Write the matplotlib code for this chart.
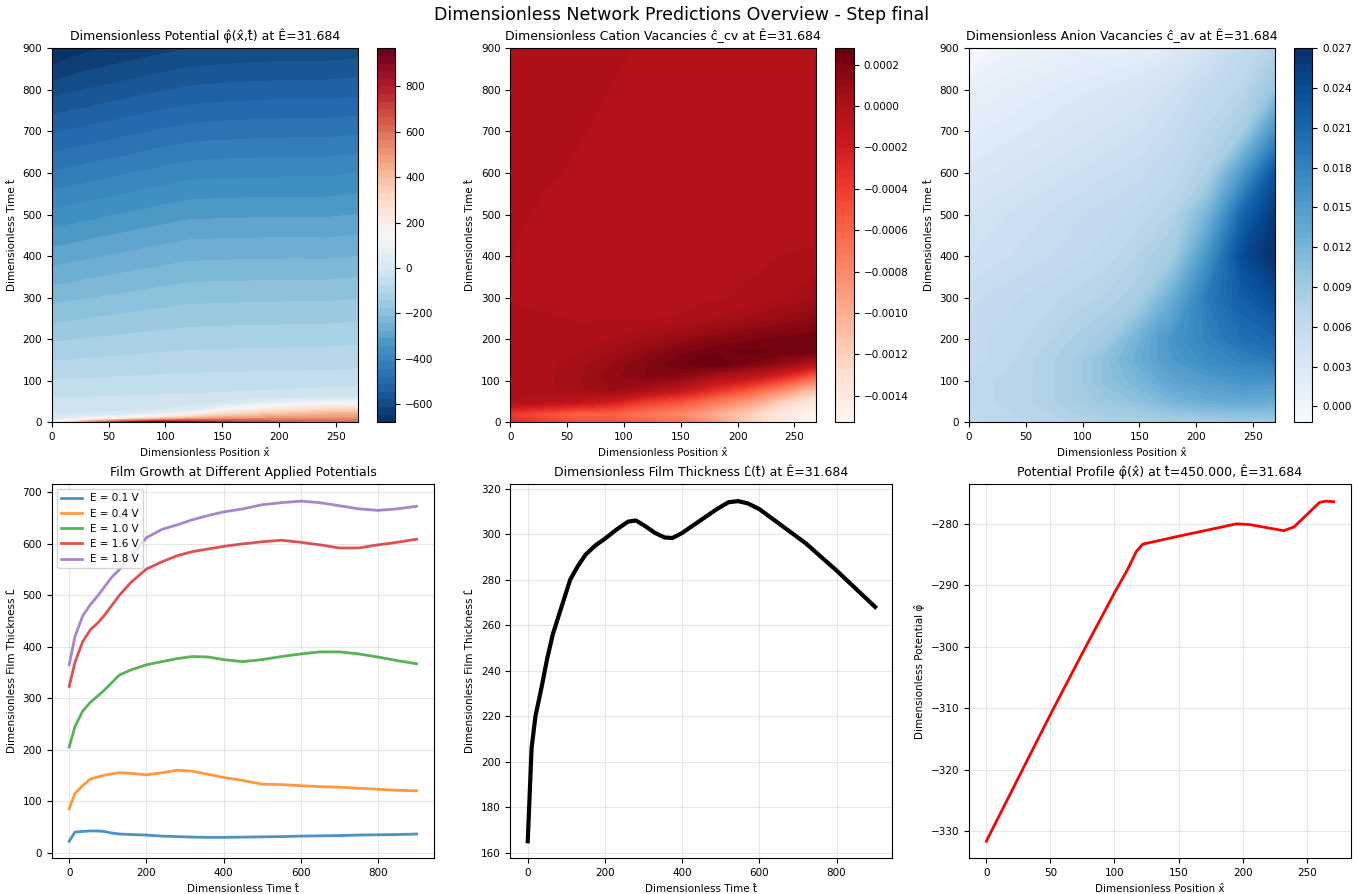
import numpy as np
import matplotlib
matplotlib.use("Agg")
import matplotlib.pyplot as plt
from matplotlib import ticker

HAT = "\u0302"
PHI = "\u03c6" + HAT
XH = "x" + HAT
TH = "t" + HAT
LH = "L" + HAT
E_VAL = "\u00ca=31.684"

# grid of the contour maps
x_grid = [0, 30, 60, 90, 120, 150, 180, 210, 240, 269]

# potential phi(x, t)
t_phi = [0, 5, 10, 20, 30, 45, 60, 100, 200, 300, 450, 600, 750, 900]
phi_map = [
    [100, 550, 800, 967, 900, 780, 700, 650, 620, 600],
    [50, 300, 500, 600, 650, 640, 620, 600, 590, 580],
    [10, 100, 160, 300, 420, 480, 500, 510, 520, 520],
    [-10, -5, 10, 60, 150, 300, 360, 400, 430, 440],
    [-20, -18, -15, -10, 20, 140, 220, 280, 320, 340],
    [-32, -30, -28, -26, -20, 0, 60, 110, 150, 140],
    [-43, -41, -39, -37, -35, -32, -28, -22, -15, -10],
    [-74, -71, -68, -66, -64, -63, -62, -61, -60, -58],
    [-148, -141, -135, -130, -125, -123, -122, -121, -120, -117],
    [-222, -212, -203, -194, -186, -184, -183, -182, -182, -178],
    [-332, -319, -307, -295, -284, -282, -281, -280, -281, -276],
    [-442, -429, -416, -403, -390, -387, -385, -384, -384, -378],
    [-553, -540, -527, -514, -502, -497, -494, -492, -492, -488],
    [-680, -655, -640, -626, -614, -608, -604, -602, -602, -598],
]

# cation vacancies
t_cv = [0, 20, 50, 80, 110, 140, 170, 200, 250, 300, 450, 600, 750, 900]
cv_map = [
    [-0.0003, -0.0004, -0.0005, -0.0005, -0.0006, -0.0007, -0.0009, -0.0012, -0.0014, -0.00153],
    [-0.0004, -0.0005, -0.0006, -0.0006, -0.0007, -0.0008, -0.0010, -0.0012, -0.0014, -0.0015],
    [-0.00002, -0.00004, -0.0001, -0.0002, -0.0004, -0.0005, -0.0007, -0.0009, -0.0012, -0.0014],
    [0.0, 0.00001, 0.00005, 0.0001, 0.00003, -0.0001, -0.0003, -0.0005, -0.0008, -0.0011],
    [0.0, 0.00001, 0.00005, 0.00012, 0.00017, 0.00014, 0.0, -0.0001, -0.0003, -0.0006],
    [0.0, 0.00001, 0.00004, 0.0001, 0.00017, 0.00024, 0.00028, 0.0002, 0.0001, -0.0001],
    [0.0, 0.0, 0.00002, 0.00006, 0.00012, 0.00019, 0.00024, 0.00025, 0.00024, 0.00022],
    [0.0, 0.0, 0.0, 0.00002, 0.00006, 0.00011, 0.00016, 0.0002, 0.00022, 0.00024],
    [0.0, -0.00001, -0.00002, -0.00002, -0.00002, -0.00001, 0.00002, 0.00006, 0.0001, 0.00014],
    [-0.00002, -0.00003, -0.00003, -0.00003, -0.00003, -0.00003, -0.00002, -0.00001, 0.00002, 0.00005],
    [-0.00001, -0.00003, -0.00003, -0.00003, -0.00003, -0.00003, -0.00003, -0.00003, -0.00003, -0.00003],
    [0.0, -0.00001, -0.00002, -0.00003, -0.00003, -0.00003, -0.00003, -0.00003, -0.00003, -0.00003],
    [0.0, 0.0, -0.00001, -0.00002, -0.00003, -0.00003, -0.00003, -0.00003, -0.00003, -0.00003],
    [0.0, 0.0, 0.0, -0.00001, -0.00002, -0.00003, -0.00003, -0.00003, -0.00003, -0.00003],
]

# anion vacancies
t_av = [0, 50, 100, 150, 200, 300, 400, 500, 600, 700, 800, 900]
av_map = [
    [0.006, 0.0065, 0.007, 0.0075, 0.008, 0.008, 0.0085, 0.0085, 0.009, 0.009],
    [0.0065, 0.007, 0.0075, 0.0085, 0.0095, 0.0105, 0.012, 0.013, 0.0135, 0.013],
    [0.0065, 0.007, 0.0075, 0.0085, 0.0105, 0.012, 0.014, 0.015, 0.016, 0.016],
    [0.006, 0.0065, 0.0075, 0.0085, 0.0105, 0.013, 0.0155, 0.017, 0.018, 0.019],
    [0.006, 0.0065, 0.007, 0.008, 0.009, 0.0125, 0.016, 0.018, 0.020, 0.021],
    [0.0055, 0.006, 0.0065, 0.007, 0.0075, 0.0085, 0.013, 0.019, 0.022, 0.024],
    [0.0045, 0.005, 0.0055, 0.006, 0.0065, 0.0075, 0.009, 0.016, 0.024, 0.027],
    [0.004, 0.0045, 0.005, 0.0055, 0.006, 0.0065, 0.0075, 0.012, 0.021, 0.026],
    [0.003, 0.0035, 0.004, 0.0045, 0.005, 0.0055, 0.0065, 0.008, 0.015, 0.023],
    [0.002, 0.0025, 0.003, 0.0035, 0.004, 0.0045, 0.0055, 0.007, 0.0085, 0.016],
    [0.001, 0.0015, 0.002, 0.0025, 0.003, 0.0035, 0.0045, 0.006, 0.007, 0.010],
    [-0.0012, 0.0003, 0.0006, 0.001, 0.0012, 0.0015, 0.0025, 0.004, 0.006, 0.0075],
]

# film growth for several applied potentials
t_growth = [0, 15, 35, 55, 75, 90, 110, 130, 160, 200, 240, 280, 320, 360, 400,
            450, 500, 550, 600, 650, 700, 750, 800, 850, 900]
growth_labels = ["E = 0.1 V", "E = 0.4 V", "E = 1.0 V", "E = 1.6 V", "E = 1.8 V"]
L_e01 = [22, 40, 41, 42, 42, 41, 38, 36, 35, 34, 32, 31, 30, 29.5, 29.5,
         30, 30.5, 31, 32, 32.5, 33, 34, 34.5, 35, 36]
L_e04 = [85, 115, 130, 143, 147, 150, 153, 155, 154, 151, 155, 160, 158, 152, 146,
         140, 133, 132, 130, 128, 127, 125, 123, 121, 120]
L_e10 = [205, 245, 275, 292, 305, 315, 330, 345, 355, 365, 371, 377, 381, 380, 375,
         371, 375, 381, 386, 390, 390, 386, 380, 373, 367]
L_e16 = [323, 370, 410, 433, 447, 460, 480, 500, 525, 551, 565, 577, 585, 590, 595,
         600, 604, 607, 603, 598, 592, 592, 598, 603, 609]
L_e18 = [365, 420, 460, 482, 500, 515, 535, 550, 575, 612, 628, 637, 647, 655, 662,
         668, 676, 680, 683, 680, 674, 668, 665, 668, 673]

# film thickness at the current potential
t_thick = [0, 10, 20, 35, 50, 65, 80, 95, 110, 130, 150, 175, 200, 230, 260, 280, 300,
           330, 355, 375, 400, 430, 460, 490, 520, 545, 570, 600, 640, 680, 720, 760,
           800, 850, 900]
L_thick = [165, 206, 220, 232, 245, 256, 264, 272, 280, 286, 291, 295, 298, 302, 305.5,
           306, 304, 300.5, 298.5, 298.3, 300.5, 304, 307.5, 311, 314, 314.5, 313.5,
           311, 306, 301, 296, 290, 284, 276, 268]

# potential profile at t = 450
x_prof = [0, 25, 50, 75, 100, 110, 117, 122, 150, 175, 195, 205, 232, 240, 260, 265, 271]
phi_prof = [-331.6, -321.3, -311.0, -301.0, -291.2, -287.5, -284.5, -283.3, -282.0,
            -280.9, -280.0, -280.1, -281.1, -280.5, -276.5, -276.3, -276.4]

FS_TITLE = 9
FS_LABEL = 7.5
FS_TICK = 7.5


def contour_panel(ax, t_vals, field, cmap, title, tick_step):
    X, T = np.meshgrid(x_grid, t_vals)
    Z = np.array(field, dtype=float)
    levels = np.linspace(Z.min(), Z.max(), 50)
    cf = ax.contourf(X, T, Z, levels=levels, cmap=cmap)
    cb = fig.colorbar(cf, ax=ax)
    cb.set_ticks(ticker.MultipleLocator(tick_step))
    cb.ax.tick_params(labelsize=FS_TICK)
    ax.set_title(title, fontsize=FS_TITLE)
    ax.set_xlabel("Dimensionless Position " + XH, fontsize=FS_LABEL)
    ax.set_ylabel("Dimensionless Time " + TH, fontsize=FS_LABEL)
    ax.tick_params(labelsize=FS_TICK)


fig, axes = plt.subplots(2, 3, figsize=(13.64, 8.94), dpi=100)
fig.subplots_adjust(left=0.038, right=0.9905, bottom=0.04, top=0.946,
                    wspace=0.2, hspace=0.165)

contour_panel(axes[0, 0], t_phi, phi_map, "RdBu_r",
              f"Dimensionless Potential {PHI}({XH},{TH}) at {E_VAL}", 200)
contour_panel(axes[0, 1], t_cv, cv_map, "Reds",
              f"Dimensionless Cation Vacancies \u0109_cv at {E_VAL}", 0.0002)
contour_panel(axes[0, 2], t_av, av_map, "Blues",
              f"Dimensionless Anion Vacancies \u0109_av at {E_VAL}", 0.003)

ax = axes[1, 0]
for lab, vals in zip(growth_labels, [L_e01, L_e04, L_e10, L_e16, L_e18]):
    ax.plot(t_growth, vals, lw=2, alpha=0.8, label=lab)
ax.set_title("Film Growth at Different Applied Potentials", fontsize=FS_TITLE)
ax.set_xlabel("Dimensionless Time " + TH, fontsize=FS_LABEL)
ax.set_ylabel("Dimensionless Film Thickness " + LH, fontsize=FS_LABEL)
ax.legend(fontsize=FS_LABEL, loc="upper left")
ax.grid(True, alpha=0.3)
ax.tick_params(labelsize=FS_TICK)

ax = axes[1, 1]
ax.plot(t_thick, L_thick, color="black", lw=3)
ax.set_title(f"Dimensionless Film Thickness {LH}({TH}) at {E_VAL}", fontsize=FS_TITLE)
ax.set_xlabel("Dimensionless Time " + TH, fontsize=FS_LABEL)
ax.set_ylabel("Dimensionless Film Thickness " + LH, fontsize=FS_LABEL)
ax.grid(True, alpha=0.3)
ax.tick_params(labelsize=FS_TICK)

ax = axes[1, 2]
ax.plot(x_prof, phi_prof, color="red", lw=2)
ax.set_title(f"Potential Profile {PHI}({XH}) at {TH}=450.000, {E_VAL}", fontsize=FS_TITLE)
ax.set_xlabel("Dimensionless Position " + XH, fontsize=FS_LABEL)
ax.set_ylabel("Dimensionless Potential " + PHI, fontsize=FS_LABEL)
ax.grid(True, alpha=0.3)
ax.tick_params(labelsize=FS_TICK)

fig.suptitle("Dimensionless Network Predictions Overview - Step final", fontsize=12.5,
             y=0.983, va="center")
fig.savefig("out.png", dpi=100)
